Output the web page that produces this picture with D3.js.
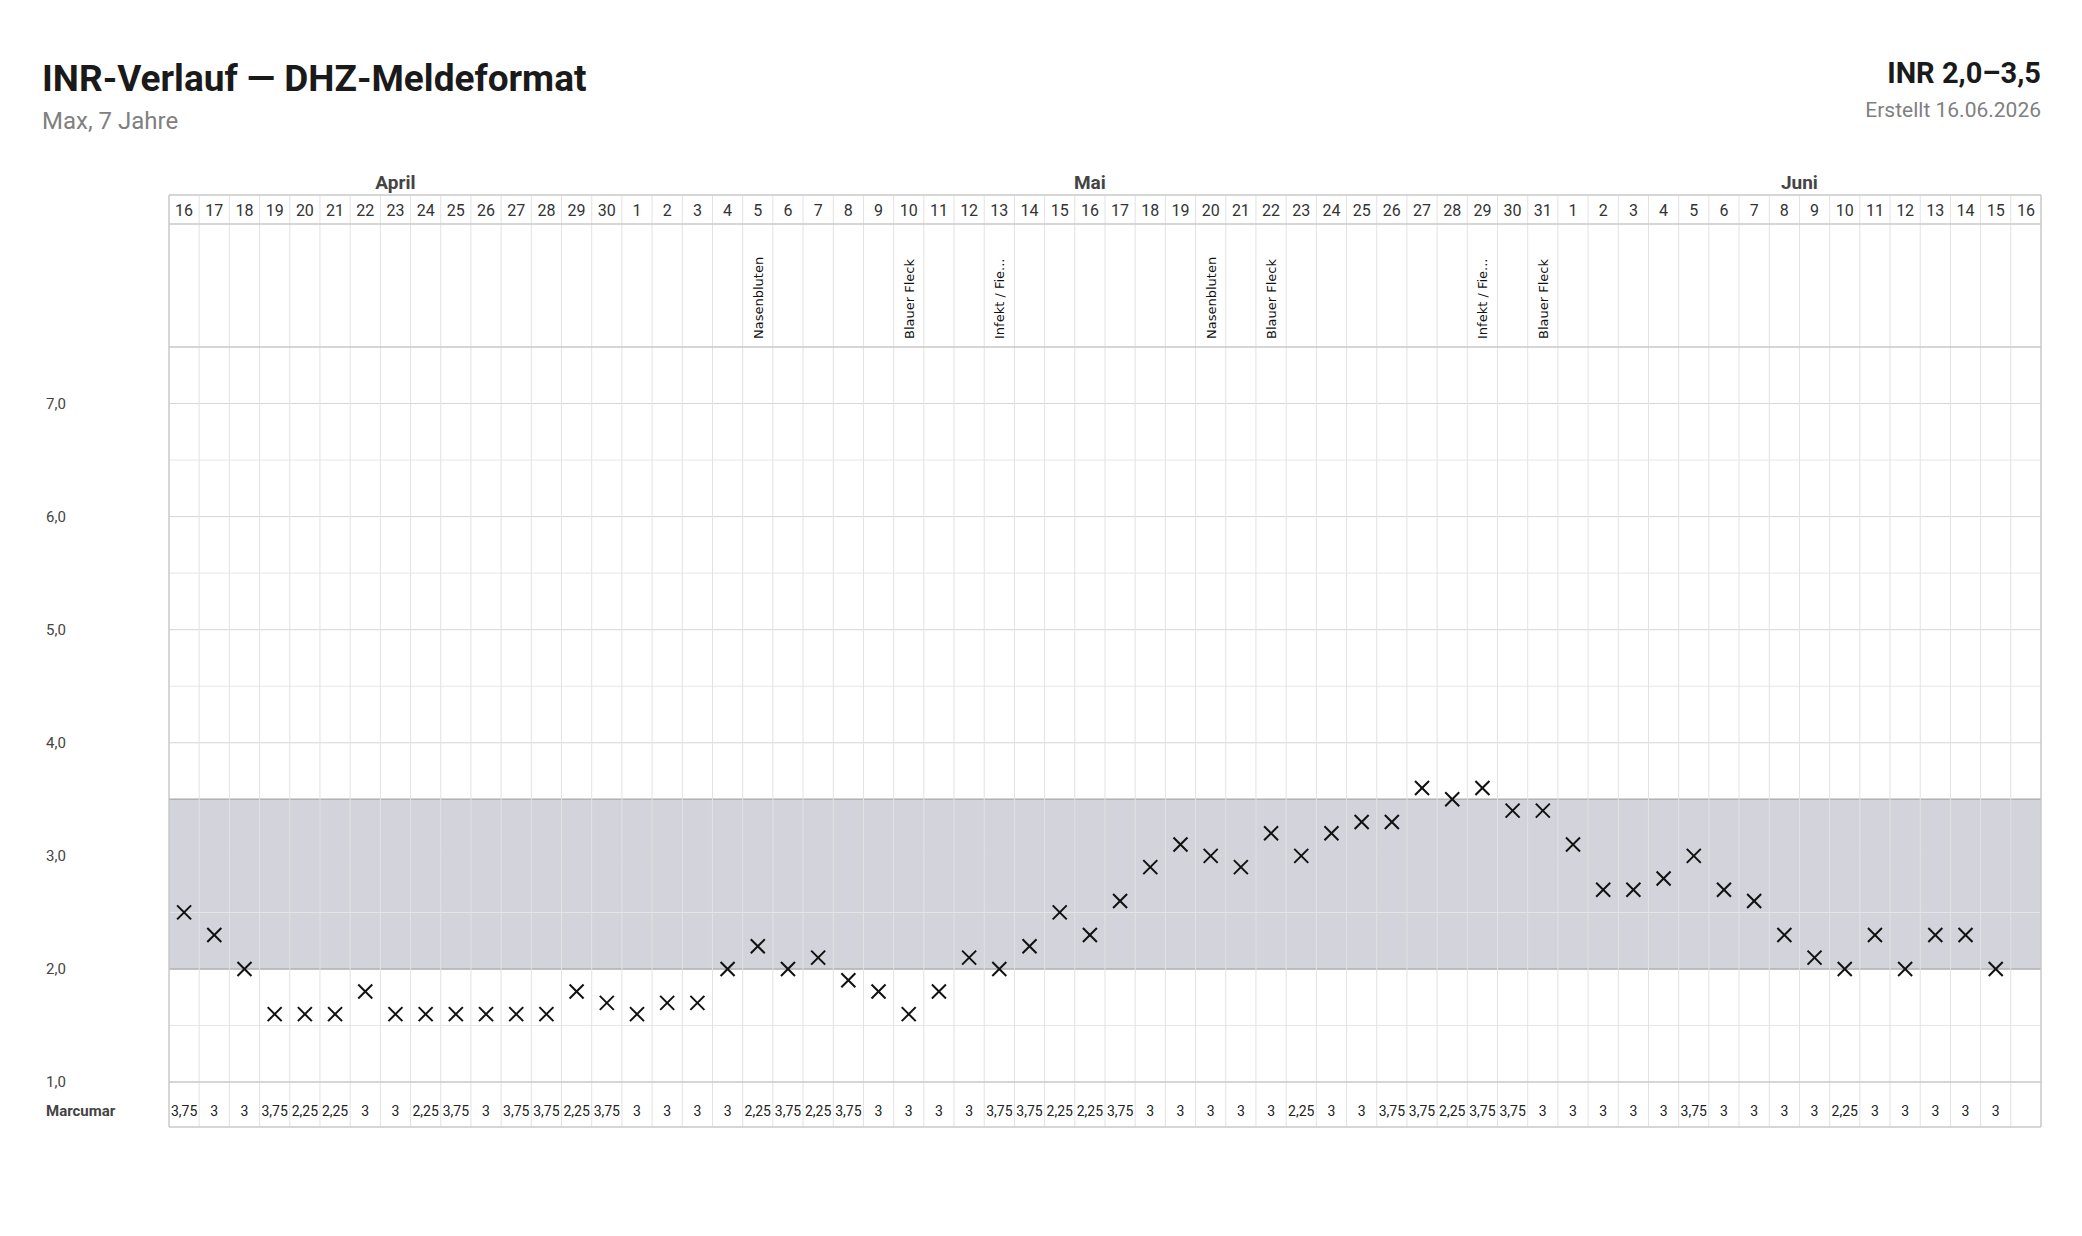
<!DOCTYPE html>
<html><head><meta charset="utf-8">
<script src="https://cdn.jsdelivr.net/npm/d3@7"></script>
<style>body{margin:0;background:#fff;font-family:Roboto,sans-serif}</style>
</head><body><svg id="c" width="2082" height="1236"></svg>
<script>
const days = ["16","17","18","19","20","21","22","23","24","25","26","27","28","29","30",
"1","2","3","4","5","6","7","8","9","10","11","12","13","14","15","16","17","18","19","20","21","22","23","24","25","26","27","28","29","30","31",
"1","2","3","4","5","6","7","8","9","10","11","12","13","14","15","16"];
const months = [{name:"April",start:0,end:14},{name:"Mai",start:15,end:45},{name:"Juni",start:46,end:61}];
const inr = [2.5,2.3,2.0,1.6,1.6,1.6,1.8,1.6,1.6,1.6,1.6,1.6,1.6,1.8,1.7,
1.6,1.7,1.7,2.0,2.2,2.0,2.1,1.9,1.8,1.6,1.8,2.1,2.0,2.2,2.5,2.3,2.6,2.9,3.1,3.0,2.9,3.2,3.0,3.2,3.3,3.3,3.6,3.5,3.6,3.4,3.4,
3.1,2.7,2.7,2.8,3.0,2.7,2.6,2.3,2.1,2.0,2.3,2.0,2.3,2.3,2.0,null];
const doses = ["3,75","3","3","3,75","2,25","2,25","3","3","2,25","3,75","3","3,75","3,75","2,25","3,75",
"3","3","3","3","2,25","3,75","2,25","3,75","3","3","3","3","3,75","3,75","2,25","2,25","3,75","3","3","3","3","3","2,25","3","3","3,75","3,75","2,25","3,75","3,75","3",
"3","3","3","3","3,75","3","3","3","3","2,25","3","3","3","3","3",""];
const events = [{i:19,t:"Nasenbluten"},{i:24,t:"Blauer Fleck"},{i:27,t:"Infekt / Fie..."},{i:34,t:"Nasenbluten"},{i:36,t:"Blauer Fleck"},{i:43,t:"Infekt / Fie..."},{i:45,t:"Blauer Fleck"}];
const yTicks = [1,2,3,4,5,6,7];
const target = [2.0,3.5];

const svg = d3.select("#c");
const L=169,R=2041, hdrTop=195, hdrBot=224, annBot=347, plotBot=1082, doseBot=1127;
const x = d3.scaleBand().domain(d3.range(days.length)).range([L,R]);
const y = d3.scaleLinear().domain([1,7.5]).range([plotBot,annBot]);

// titles
svg.append("text").attr("x",42).attr("y",91).attr("font-size",37).attr("font-weight",700).attr("fill","#1a1a1a").text("INR-Verlauf — DHZ-Meldeformat");
svg.append("text").attr("x",42).attr("y",129).attr("font-size",24).attr("fill","#808080").text("Max, 7 Jahre");
svg.append("text").attr("x",R).attr("y",83).attr("text-anchor","end").attr("font-size",29).attr("font-weight",700).attr("fill","#1a1a1a").text("INR 2,0–3,5");
svg.append("text").attr("x",R).attr("y",117).attr("text-anchor","end").attr("font-size",21).attr("fill","#808080").text("Erstellt 16.06.2026");

// target band
svg.append("rect").attr("x",L).attr("width",R-L).attr("y",y(target[1])).attr("height",y(target[0])-y(target[1])).attr("fill","#d2d3db");

// horizontal grid
const hl = d3.range(1.5,7.5,0.5);
svg.selectAll(".hg").data(hl).join("line").attr("x1",L).attr("x2",R).attr("y1",d=>y(d)).attr("y2",d=>y(d))
 .attr("stroke",d=>Number.isInteger(d)?"#d6d6d6":"#e6e6e6").attr("stroke-width",1);
svg.selectAll(".tb").data(target).join("line").attr("x1",L).attr("x2",R).attr("y1",d=>y(d)).attr("y2",d=>y(d)).attr("stroke","#b0b0b5").attr("stroke-width",1.5);

// vertical grid
svg.selectAll(".vg").data(d3.range(1,days.length)).join("line").attr("x1",d=>x(d)).attr("x2",d=>x(d)).attr("y1",hdrTop).attr("y2",doseBot).attr("stroke","#e2e2e2");

// structural horizontal lines
[hdrTop,hdrBot,annBot,plotBot,doseBot].forEach(v=>svg.append("line").attr("x1",L).attr("x2",R).attr("y1",v).attr("y2",v).attr("stroke","#c8c8c8").attr("stroke-width",1.5));
[L,R].forEach(v=>svg.append("line").attr("x1",v).attr("x2",v).attr("y1",hdrTop).attr("y2",doseBot).attr("stroke","#c8c8c8").attr("stroke-width",1.5));

// months
svg.selectAll(".mo").data(months).join("text").attr("x",d=>(x(d.start)+x(d.end)+x.bandwidth())/2).attr("y",189)
 .attr("text-anchor","middle").attr("font-size",19).attr("font-weight",700).attr("fill","#444").text(d=>d.name);
// days
svg.selectAll(".dy").data(days).join("text").attr("x",(d,i)=>x(i)+x.bandwidth()/2).attr("y",216)
 .attr("text-anchor","middle").attr("font-size",16).attr("fill","#333").text(d=>d);

// events
svg.selectAll(".ev").data(events).join("text").attr("transform",d=>`translate(${x(d.i)+x.bandwidth()/2+5},339) rotate(-90)`)
 .attr("font-family","DejaVu Sans").attr("font-size",13).attr("fill","#111").text(d=>d.t);

// y axis labels
svg.selectAll(".yt").data(yTicks).join("text").attr("x",46).attr("y",d=>y(d)+5).attr("font-size",15).attr("fill","#444").text(d=>d.toFixed(1).replace(".",","));

// crosses
const pts = inr.map((v,i)=>({v,i})).filter(d=>d.v!=null);
const s=7;
const g = svg.selectAll(".pt").data(pts).join("g").attr("transform",d=>`translate(${x(d.i)+x.bandwidth()/2},${y(d.v)})`);
g.append("line").attr("x1",-s).attr("y1",-s).attr("x2",s).attr("y2",s).attr("stroke","#111").attr("stroke-width",2);
g.append("line").attr("x1",-s).attr("y1",s).attr("x2",s).attr("y2",-s).attr("stroke","#111").attr("stroke-width",2);

// doses
svg.append("text").attr("x",46).attr("y",1116).attr("font-size",15).attr("font-weight",700).attr("fill","#444").text("Marcumar");
svg.selectAll(".ds").data(doses).join("text").attr("x",(d,i)=>x(i)+x.bandwidth()/2).attr("y",1116)
 .attr("text-anchor","middle").attr("font-size",14).attr("fill","#222").text(d=>d);
</script></body></html>
